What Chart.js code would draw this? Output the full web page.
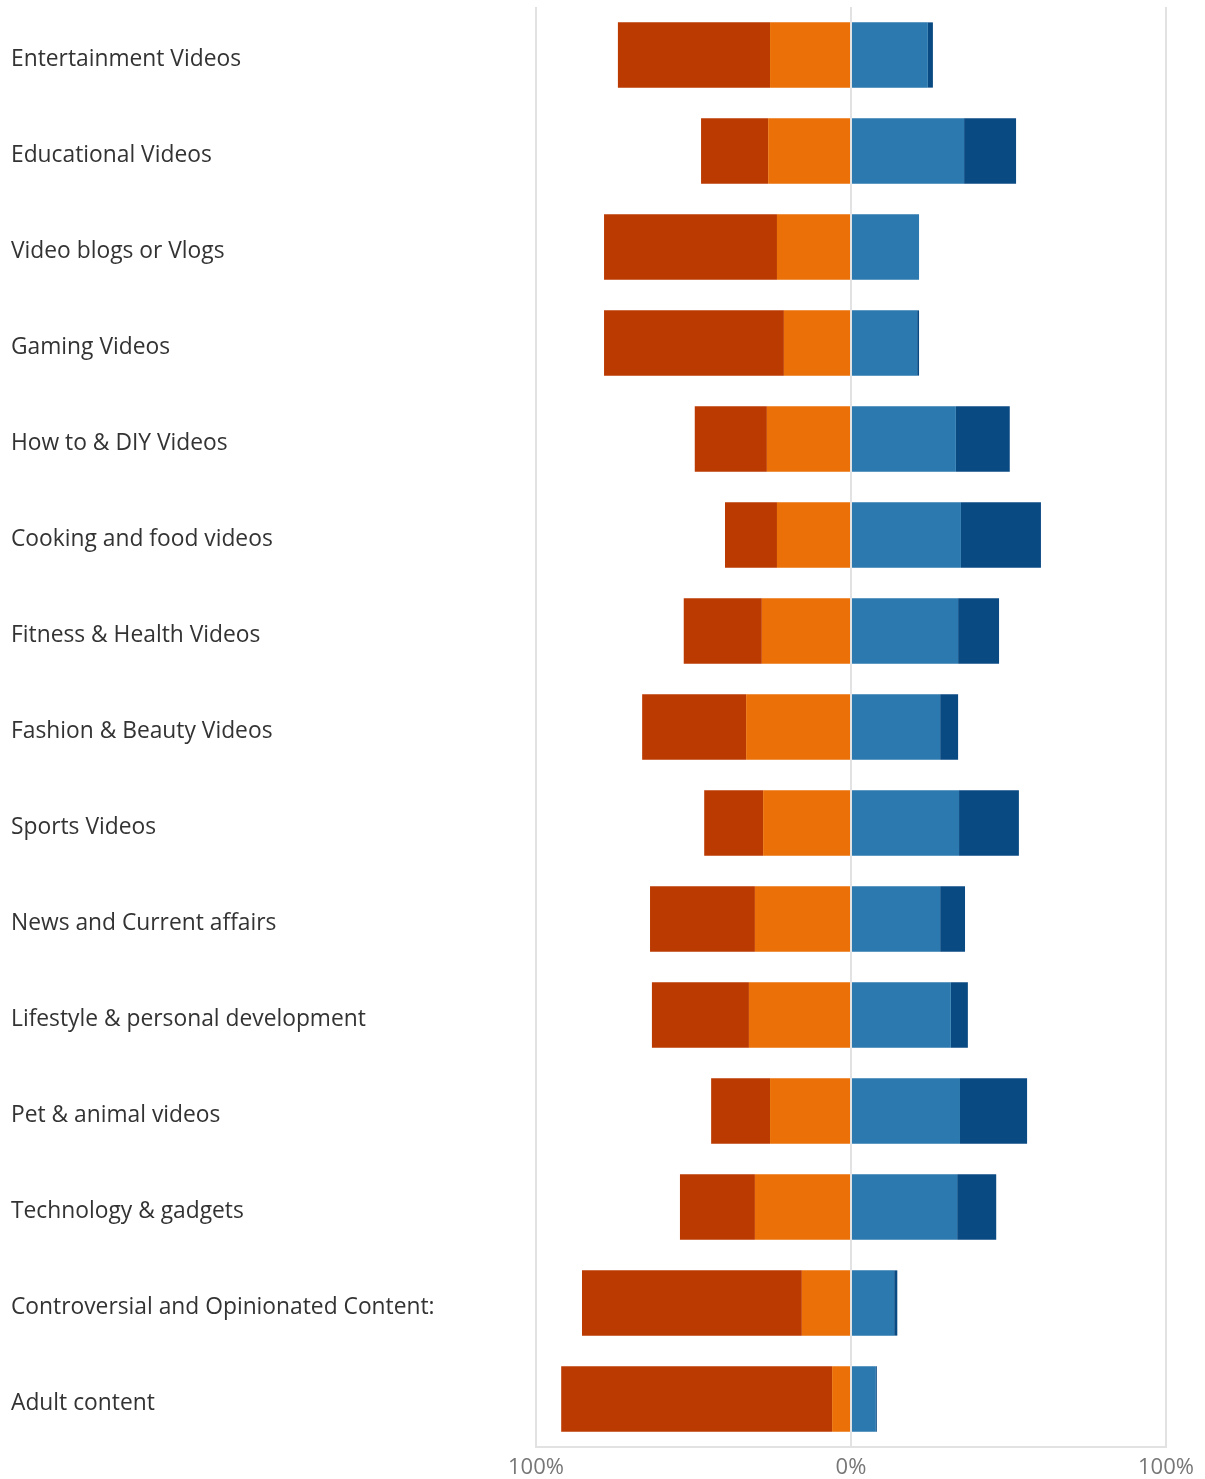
<!DOCTYPE html>
<html>
<head>
<meta charset="utf-8">
<title>Video content preferences</title>
<script src="https://cdn.jsdelivr.net/npm/chart.js@4/dist/chart.umd.min.js"></script>
<style>
  html, body { margin: 0; padding: 0; background: #ffffff; }
  #wrap { width: 1205px; height: 1479px; position: relative; }
</style>
</head>
<body>
<div id="wrap"><canvas id="chart"></canvas></div>
<script>
// Content categories, top to bottom
const categories = [
  "Entertainment Videos",
  "Educational Videos",
  "Video blogs or Vlogs",
  "Gaming Videos",
  "How to & DIY Videos",
  "Cooking and food videos",
  "Fitness & Health Videos",
  "Fashion & Beauty Videos",
  "Sports Videos",
  "News and Current affairs",
  "Lifestyle & personal development",
  "Pet & animal videos",
  "Technology & gadgets",
  "Controversial and Opinionated Content:",
  "Adult content"
];

// Shares (%) per response level; the two negative levels extend left of zero
const mildNegative   = [25.7, 26.3, 23.5, 21.3, 26.7, 23.5, 28.3, 33.3, 27.9, 30.5, 32.4, 25.7, 30.5, 15.6, 6.0];
const strongNegative = [48.3, 21.3, 54.9, 57.1, 22.9, 16.5, 24.8, 33.0, 18.7, 33.3, 30.8, 18.7, 23.8, 69.8, 86.0];
const mildPositive   = [24.4, 35.9, 21.6, 21.0, 33.3, 34.9, 34.0, 28.3, 34.3, 28.3, 31.7, 34.6, 33.7, 13.7, 7.9];
const strongPositive = [1.6, 16.5, 0.0, 0.6, 17.1, 25.4, 13.0, 5.7, 19.0, 7.9, 5.4, 21.3, 12.4, 1.0, 0.3];

// Axis tick values shown along the bottom
const axisTicks = [-100, 0, 100];

const neg = arr => arr.map(v => -v);

const barStyle = {
  borderWidth: 0,
  barPercentage: 0.68,
  categoryPercentage: 1.0
};

new Chart(document.getElementById('chart'), {
  type: 'bar',
  data: {
    labels: categories,
    datasets: [
      Object.assign({ label: 'mildNegative',   data: neg(mildNegative),   backgroundColor: '#ea7007' }, barStyle),
      Object.assign({ label: 'strongNegative', data: neg(strongNegative), backgroundColor: '#bb3a02' }, barStyle),
      Object.assign({ label: 'mildPositive',   data: mildPositive,        backgroundColor: '#2b79af' }, barStyle),
      Object.assign({ label: 'strongPositive', data: strongPositive,      backgroundColor: '#0a4a83' }, barStyle)
    ]
  },
  options: {
    indexAxis: 'y',
    responsive: true,
    maintainAspectRatio: false,
    animation: false,
    layout: { padding: { left: 11, right: 39, top: 7, bottom: 0 } },
    plugins: {
      legend: { display: false },
      tooltip: { enabled: false }
    },
    scales: {
      x: {
        stacked: true,
        min: -100,
        max: 100,
        z: 1,
        afterBuildTicks: scale => { scale.ticks = axisTicks.map(v => ({ value: v })); },
        afterFit: scale => { scale.height = 32; },
        grid: { color: '#e2e2e2', lineWidth: 2, drawTicks: false },
        border: { display: true, color: '#e2e2e2', width: 2 },
        ticks: {
          padding: 8,
          color: '#777777',
          font: { family: 'Open Sans', size: 22 },
          callback: v => Math.abs(v) + '%',
          maxRotation: 0
        }
      },
      y: {
        stacked: true,
        afterFit: scale => {
          scale.width = 525;
          scale.paddingTop = 0;
          scale.paddingBottom = 0;
        },
        grid: { display: false, drawTicks: false },
        border: { display: false },
        ticks: {
          crossAlign: 'far',
          padding: 0,
          labelOffset: 5,
          color: '#333333',
          font: { family: 'Open Sans', size: 22.8 }
        }
      }
    }
  }
});
</script>
</body>
</html>
